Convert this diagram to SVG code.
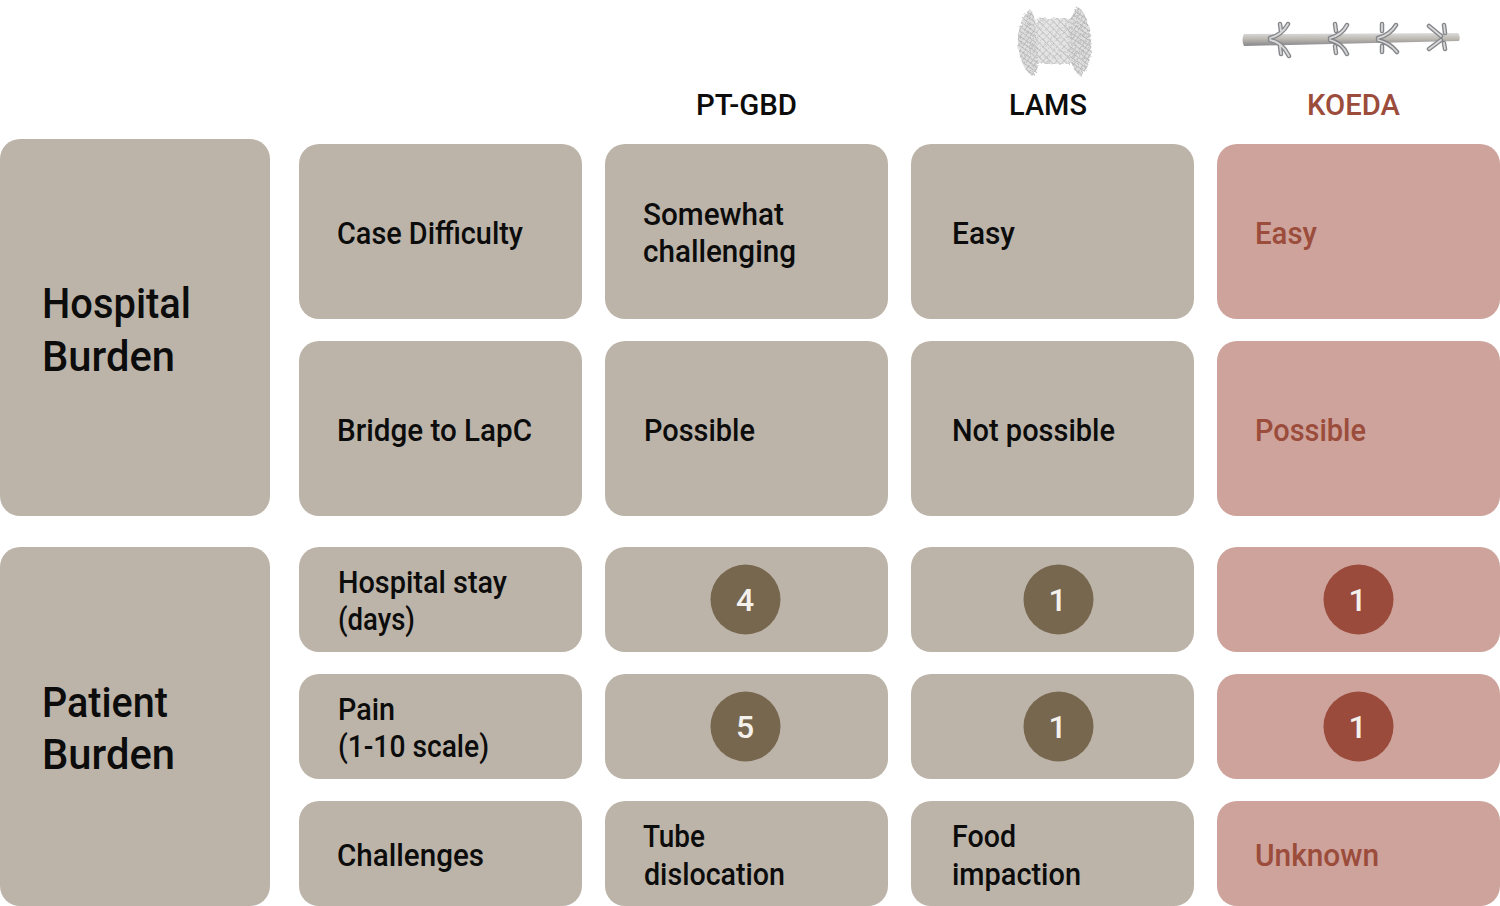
<svg xmlns="http://www.w3.org/2000/svg" width="1500" height="906" viewBox="0 0 1500 906">
<defs>
<linearGradient id="rod" x1="0" y1="0" x2="0" y2="1"><stop offset="0" stop-color="#dcdcdc"/><stop offset=".45" stop-color="#bdb9b2"/><stop offset="1" stop-color="#85868a"/></linearGradient>
<pattern id="mesh" width="5" height="5" patternUnits="userSpaceOnUse" patternTransform="rotate(45)"><rect width="5" height="5" fill="#e4e4e4"/><path d="M0 0H5M0 0V5" stroke="#aaa" stroke-width="1"/></pattern>
<pattern id="mesh2" width="4" height="4" patternUnits="userSpaceOnUse" patternTransform="rotate(35)"><rect width="4" height="4" fill="#dedede"/><path d="M0 0H4M0 0V4" stroke="#a2a2a2" stroke-width="1.1"/></pattern>
<filter id="rough" x="-20%" y="-20%" width="140%" height="140%"><feTurbulence type="fractalNoise" baseFrequency=".35" numOctaves="2" seed="4"/><feDisplacementMap in="SourceGraphic" scale="4"/><feGaussianBlur stdDeviation=".45"/></filter>
<filter id="soft"><feGaussianBlur stdDeviation=".35"/></filter>
<path id="arms" d="M1270 38Q1282 35 1288 24M1270 40Q1282 42 1289 56M1280 24L1281 31M1280 46L1281 54M1330 38Q1342 35 1347 25M1330 40Q1342 43 1347 54M1335 24L1336 31M1335 46L1336 53M1378 38Q1390 35 1396 25M1378 40Q1390 43 1397 52M1382 24L1382 31M1382 46L1382 52M1429 26L1441 36M1429 49L1441 40M1444 25L1445 33M1444 43L1445 49"/>
</defs>
<style>
text{font-family:Roboto,"Liberation Sans",sans-serif;font-weight:500;fill:#0c0c0c}
.b{fill:#bcb4a9}.p{fill:#cda39b}
.m{font-size:31.500px}.l{font-size:42px}.h{font-size:29.500px}
.r{fill:#9b4c3b}.w{fill:#f4f1ec;text-anchor:middle;font-size:32px}
.cb{fill:#78674f}.cr{fill:#9a4b3c}
.arm-o{fill:none;stroke:#85868a;stroke-width:4.500;stroke-linecap:round}
.arm-i{fill:none;stroke:#d8d8d8;stroke-width:1.800;stroke-linecap:round}
</style>
<g id="icon-lams">
<g filter="url(#rough)">
<rect x="1036" y="18" width="38" height="46" rx="4" fill="url(#mesh)"/>
<path d="M1030 9C1022 16 1017 30 1018 44C1019 58 1024 70 1032 76C1039 72 1039 62 1037 50C1035 34 1038 18 1030 9Z" fill="url(#mesh2)"/>
<path d="M1078 7C1070 14 1067 28 1068 42C1069 58 1072 70 1080 76C1089 70 1092 56 1091 42C1090 26 1086 12 1078 7Z" fill="url(#mesh2)"/>
</g>
</g>
<g id="icon-koeda" filter="url(#soft)">
<path d="M1244 34L1458 33Q1461 37 1459 41L1244 46Q1241 40 1244 34Z" fill="url(#rod)"/>
<use href="#arms" class="arm-o"/><use href="#arms" class="arm-i"/>
</g>
<g id="header-ptgbd"><text class="h" x="696" y="115" textLength="101" lengthAdjust="spacingAndGlyphs">PT-GBD</text></g>
<g id="header-lams"><text class="h" x="1009" y="115" textLength="78" lengthAdjust="spacingAndGlyphs">LAMS</text></g>
<g id="header-koeda"><text class="h r" x="1307" y="115" textLength="93" lengthAdjust="spacingAndGlyphs">KOEDA</text></g>

<g id="group-hospital"><rect class="b" x="0" y="139" width="270" height="377" rx="20"/>
<text class="l" x="42" y="318" textLength="149" lengthAdjust="spacingAndGlyphs">Hospital</text><text class="l" x="42" y="371" textLength="133" lengthAdjust="spacingAndGlyphs">Burden</text></g>
<g id="group-patient"><rect class="b" x="0" y="547" width="270" height="359" rx="20"/>
<text class="l" x="42" y="717" textLength="126" lengthAdjust="spacingAndGlyphs">Patient</text><text class="l" x="42" y="769" textLength="133" lengthAdjust="spacingAndGlyphs">Burden</text></g>

<g id="row1-label"><rect class="b" x="299" y="144" width="283" height="175" rx="20"/><text class="m" x="337" y="244" textLength="186" lengthAdjust="spacingAndGlyphs">Case Difficulty</text></g>
<g id="row1-ptgbd"><rect class="b" x="605" y="144" width="283" height="175" rx="20"/><text class="m" x="643" y="225" textLength="141" lengthAdjust="spacingAndGlyphs">Somewhat</text><text class="m" x="643" y="262" textLength="153" lengthAdjust="spacingAndGlyphs">challenging</text></g>
<g id="row1-lams"><rect class="b" x="911" y="144" width="283" height="175" rx="20"/><text class="m" x="952" y="244" textLength="63" lengthAdjust="spacingAndGlyphs">Easy</text></g>
<g id="row1-koeda"><rect class="p" x="1217" y="144" width="283" height="175" rx="20"/><text class="m r" x="1255" y="244" textLength="62" lengthAdjust="spacingAndGlyphs">Easy</text></g>

<g id="row2-label"><rect class="b" x="299" y="341" width="283" height="175" rx="20"/><text class="m" x="337" y="441" textLength="195" lengthAdjust="spacingAndGlyphs">Bridge to LapC</text></g>
<g id="row2-ptgbd"><rect class="b" x="605" y="341" width="283" height="175" rx="20"/><text class="m" x="644" y="441" textLength="111" lengthAdjust="spacingAndGlyphs">Possible</text></g>
<g id="row2-lams"><rect class="b" x="911" y="341" width="283" height="175" rx="20"/><text class="m" x="952" y="441" textLength="163" lengthAdjust="spacingAndGlyphs">Not possible</text></g>
<g id="row2-koeda"><rect class="p" x="1217" y="341" width="283" height="175" rx="20"/><text class="m r" x="1255" y="441" textLength="111" lengthAdjust="spacingAndGlyphs">Possible</text></g>

<g id="row3-label"><rect class="b" x="299" y="547" width="283" height="105" rx="20"/><text class="m" x="338" y="593" textLength="169" lengthAdjust="spacingAndGlyphs">Hospital stay</text><text class="m" x="338" y="630" textLength="77" lengthAdjust="spacingAndGlyphs">(days)</text></g>
<g id="row3-ptgbd"><rect class="b" x="605" y="547" width="283" height="105" rx="20"/><circle class="cb" cx="745.500" cy="599.500" r="35"/><text class="w" x="745" y="611">4</text></g>
<g id="row3-lams"><rect class="b" x="911" y="547" width="283" height="105" rx="20"/><circle class="cb" cx="1058.500" cy="599.500" r="35"/><text class="w" x="1057.500" y="611">1</text></g>
<g id="row3-koeda"><rect class="p" x="1217" y="547" width="283" height="105" rx="20"/><circle class="cr" cx="1358.500" cy="599.500" r="35"/><text class="w" x="1357.500" y="611">1</text></g>

<g id="row4-label"><rect class="b" x="299" y="674" width="283" height="105" rx="20"/><text class="m" x="338" y="720" textLength="57" lengthAdjust="spacingAndGlyphs">Pain</text><text class="m" x="338" y="757" textLength="151" lengthAdjust="spacingAndGlyphs">(1-10 scale)</text></g>
<g id="row4-ptgbd"><rect class="b" x="605" y="674" width="283" height="105" rx="20"/><circle class="cb" cx="745.500" cy="726.500" r="35"/><text class="w" x="745" y="738">5</text></g>
<g id="row4-lams"><rect class="b" x="911" y="674" width="283" height="105" rx="20"/><circle class="cb" cx="1058.500" cy="726.500" r="35"/><text class="w" x="1057.500" y="738">1</text></g>
<g id="row4-koeda"><rect class="p" x="1217" y="674" width="283" height="105" rx="20"/><circle class="cr" cx="1358.500" cy="726.500" r="35"/><text class="w" x="1357.500" y="738">1</text></g>

<g id="row5-label"><rect class="b" x="299" y="801" width="283" height="105" rx="20"/><text class="m" x="337" y="866" textLength="147" lengthAdjust="spacingAndGlyphs">Challenges</text></g>
<g id="row5-ptgbd"><rect class="b" x="605" y="801" width="283" height="105" rx="20"/><text class="m" x="643" y="847" textLength="62" lengthAdjust="spacingAndGlyphs">Tube</text><text class="m" x="644" y="885" textLength="141" lengthAdjust="spacingAndGlyphs">dislocation</text></g>
<g id="row5-lams"><rect class="b" x="911" y="801" width="283" height="105" rx="20"/><text class="m" x="952" y="847" textLength="64" lengthAdjust="spacingAndGlyphs">Food</text><text class="m" x="952" y="885" textLength="129" lengthAdjust="spacingAndGlyphs">impaction</text></g>
<g id="row5-koeda"><rect class="p" x="1217" y="801" width="283" height="105" rx="20"/><text class="m r" x="1255" y="866" textLength="124" lengthAdjust="spacingAndGlyphs">Unknown</text></g>
</svg>
